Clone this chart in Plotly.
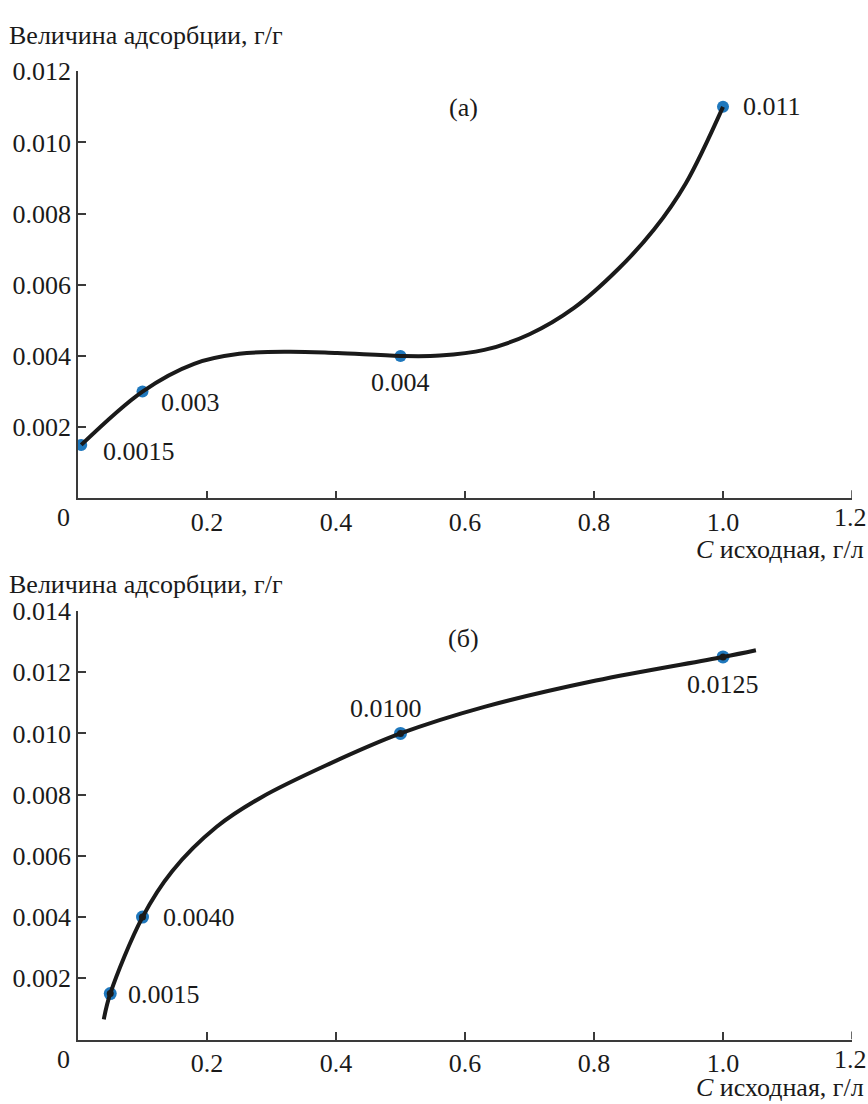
import plotly.graph_objects as go

# ---- data ----
# panel (а)
a_x = [0.005, 0.1, 0.5, 1.0]
a_y = [0.0015, 0.003, 0.004, 0.011]
a_labels = ["0.0015", "0.003", "0.004", "0.011"]
a_curve_x = [0.005, 0.1, 0.18, 0.25, 0.326, 0.402, 0.5, 0.561, 0.63, 0.70, 0.769, 0.838, 0.893, 0.942, 1.0]
a_curve_y = [0.0015, 0.0030, 0.00378, 0.00406, 0.00412, 0.00408, 0.0040, 0.00401, 0.00417, 0.00461, 0.00535, 0.00645, 0.00755, 0.00884, 0.011]

# panel (б)
b_x = [0.05, 0.1, 0.5, 1.0]
b_y = [0.0015, 0.0040, 0.0100, 0.0125]
b_labels = ["0.0015", "0.0040", "0.0100", "0.0125"]
b_curve_x = [0.040, 0.05, 0.1, 0.146, 0.215, 0.284, 0.388, 0.5, 0.63, 0.803, 1.0, 1.051]
b_curve_y = [0.00066, 0.0015, 0.0040, 0.00550, 0.00695, 0.00791, 0.00899, 0.0100, 0.01087, 0.01173, 0.0125, 0.01272]

x_ticks = [0.2, 0.4, 0.6, 0.8, 1.0, 1.2]
x_ticktext = ["0.2", "0.4", "0.6", "0.8", "1.0", "1.2"]
a_yticks = [0.002, 0.004, 0.006, 0.008, 0.010, 0.012]
a_yticktext = ["0.002", "0.004", "0.006", "0.008", "0.010", "0.012"]
b_yticks = [0.002, 0.004, 0.006, 0.008, 0.010, 0.012, 0.014]
b_yticktext = ["0.002", "0.004", "0.006", "0.008", "0.010", "0.012", "0.014"]

y_title = "Величина адсорбции, г/г"
x_title = "<i>C</i> исходная, г/л"

# ---- styling ----
W, H = 868, 1104
FONT = "Liberation Serif"
FS = 26
BLUE = "#1f78bd"
INK = "#1a1a1a"
AX = "#3a3a3a"

def py(px):  # pixel from top -> paper fraction
    return 1 - px / H

fig = go.Figure()

# panel а
fig.add_trace(go.Scatter(x=a_x, y=a_y, mode="markers",
                         marker=dict(color=BLUE, size=12), xaxis="x", yaxis="y",
                         showlegend=False, hoverinfo="skip"))
fig.add_trace(go.Scatter(x=a_curve_x, y=a_curve_y, mode="lines",
                         line=dict(color=INK, width=4, shape="spline", smoothing=1.0),
                         xaxis="x", yaxis="y", showlegend=False))

# panel б
fig.add_trace(go.Scatter(x=b_x, y=b_y, mode="markers",
                         marker=dict(color=BLUE, size=13), xaxis="x2", yaxis="y2",
                         showlegend=False, hoverinfo="skip"))
fig.add_trace(go.Scatter(x=b_curve_x, y=b_curve_y, mode="lines",
                         line=dict(color=INK, width=4, shape="spline", smoothing=1.0),
                         xaxis="x2", yaxis="y2", showlegend=False))
fig.add_trace(go.Scatter(x=b_x, y=b_y, mode="markers",
                         marker=dict(color=INK, size=7), xaxis="x2", yaxis="y2",
                         showlegend=False, hoverinfo="skip"))

xdom = [78 / W, 852 / W]
common_x = dict(range=[0, 1.2], tickvals=x_ticks[:-1], ticktext=x_ticktext[:-1],
                ticks="inside", ticklen=8, tickwidth=1.5, tickcolor=AX,
                showline=True, linecolor=AX, linewidth=1.5, showgrid=False,
                zeroline=False, tickfont=dict(family=FONT, size=FS, color=INK),
                domain=xdom)
common_y = dict(ticks="inside", ticklen=8, tickwidth=1.5, tickcolor=AX,
                showline=True, linecolor=AX, linewidth=1.5, showgrid=False,
                zeroline=False, tickfont=dict(family=FONT, size=FS, color=INK))

fig.update_layout(
    width=W, height=H,
    margin=dict(l=0, r=0, t=0, b=0),
    paper_bgcolor="white", plot_bgcolor="white",
    font=dict(family=FONT, size=FS, color=INK),
    xaxis=dict(common_x, anchor="y"),
    yaxis=dict(common_y, range=[0, 0.012], tickvals=a_yticks, ticktext=a_yticktext,
               domain=[py(490.5), py(58)], anchor="x"),
    xaxis2=dict(common_x, anchor="y2"),
    yaxis2=dict(common_y, range=[0, 0.014], tickvals=b_yticks, ticktext=b_yticktext,
                domain=[py(1038.7), py(604.7)], anchor="x2"),
)

shapes = []
ann = []
tf = dict(family=FONT, size=FS, color=INK)
# point labels panel а
a_offsets = [(20, -7, "left"), (16, -11, "left"), (0, -27, "center"), (18, 0, "left")]
for xv, yv, t, (dx, dy, al) in zip(a_x, a_y, a_labels, a_offsets):
    ann.append(dict(x=xv, y=yv, xref="x", yref="y", text=t, showarrow=False,
                    xanchor=al, yanchor="middle", xshift=dx, yshift=dy, font=tf))
# point labels panel б
b_offsets = [(16, -1, "left"), (18, 0, "left"), (-15, 25, "center"), (0, -28, "center")]
for xv, yv, t, (dx, dy, al) in zip(b_x, b_y, b_labels, b_offsets):
    ann.append(dict(x=xv, y=yv, xref="x2", yref="y2", text=t, showarrow=False,
                    xanchor=al, yanchor="middle", xshift=dx, yshift=dy, font=tf))

# panel letters
ann.append(dict(x=463 / W, y=py(95), xref="paper", yref="paper", text="(а)",
                showarrow=False, xanchor="center", yanchor="middle", font=tf))
ann.append(dict(x=463 / W, y=py(633), xref="paper", yref="paper", text="(б)",
                showarrow=False, xanchor="center", yanchor="middle", font=tf))

# axis titles
for ytop, xt in [(22, 542), (578, 1087)]:
    ann.append(dict(x=7 / W, y=py(ytop), xref="paper", yref="paper", text=y_title,
                    showarrow=False, xanchor="left", yanchor="middle", font=tf))
    ann.append(dict(x=866 / W, y=py(xt), xref="paper", yref="paper", text=x_title,
                    showarrow=False, xanchor="right", yanchor="middle", font=tf))

# corner "0" labels, last x tick ("1.2") label at the right edge, and its tick
for xa, ya, yy in [("x", "y", 510), ("x2", "y2", 1059)]:
    ann.append(dict(x=63 / W, y=py(yy), xref="paper", yref="paper", text="0",
                    showarrow=False, xanchor="center", yanchor="middle", font=tf))
    ann.append(dict(x=x_ticks[-1], y=py(yy), xref=xa, yref="paper", text=x_ticktext[-1],
                    showarrow=False, xanchor="center", yanchor="middle", xshift=-2, font=tf))
    shapes.append(dict(type="line", xref=xa, yref=ya, x0=x_ticks[-1], x1=x_ticks[-1],
                       y0=0, y1=8, ysizemode="pixel", yanchor=0,
                       line=dict(color=AX, width=1.5)))

fig.update_layout(annotations=ann, shapes=shapes)
fig.write_html("out.html", config={"displayModeBar": False},
               post_script="document.body.style.margin='0';document.body.style.overflow='hidden';")
